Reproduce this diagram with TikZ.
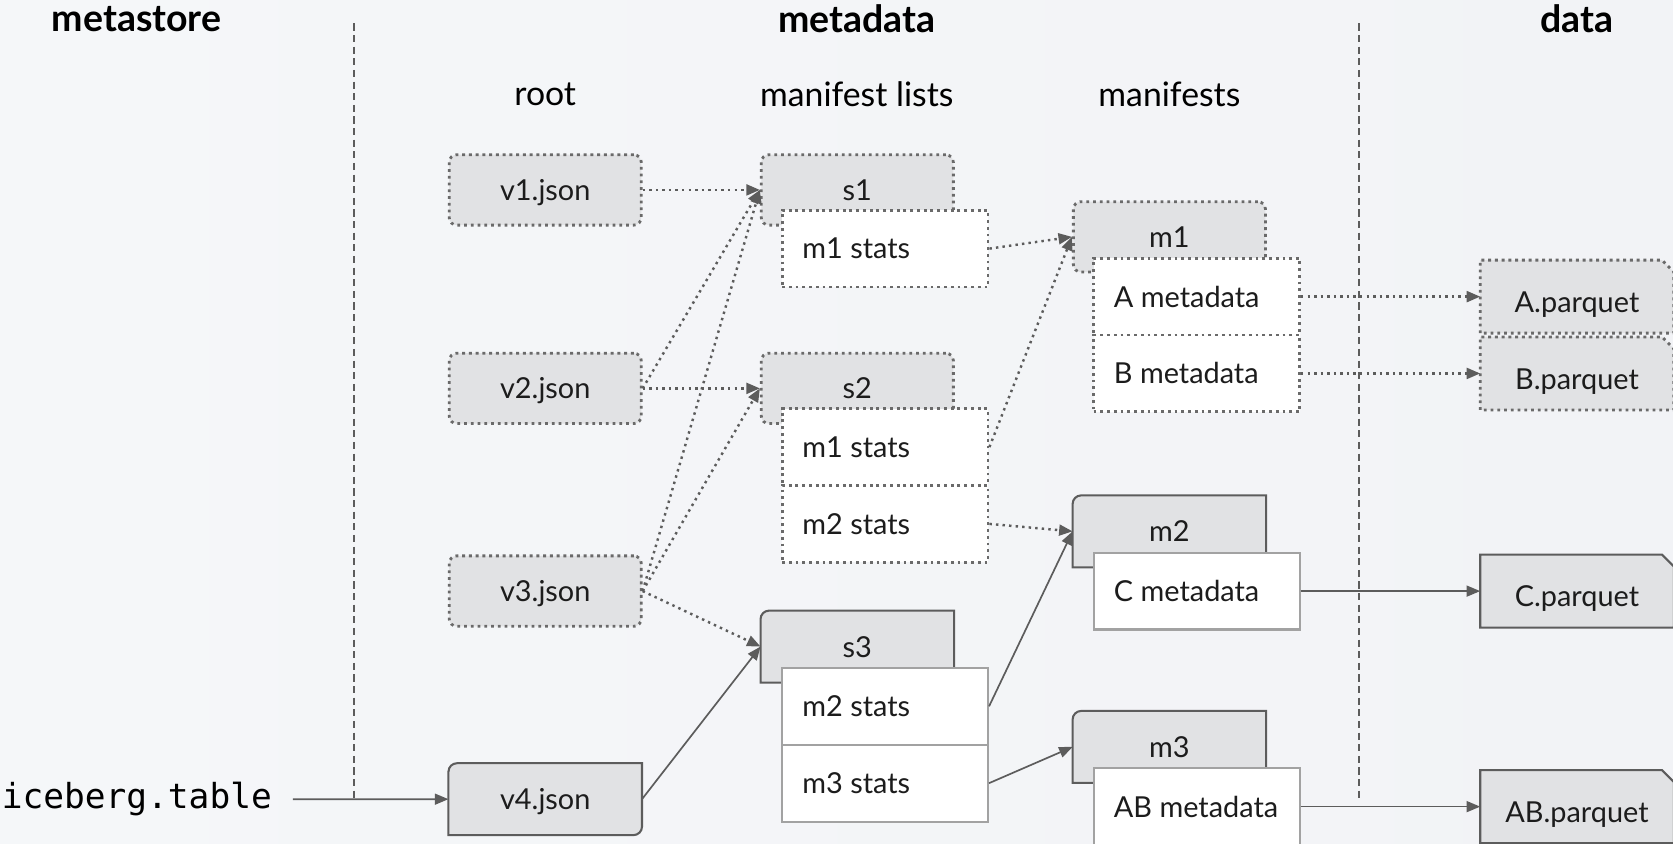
\documentclass[tikz,border=0pt]{standalone}
\usepackage{fontspec}
\setmainfont{Lato}
\setmonofont{DejaVu Sans Mono}
\usetikzlibrary{arrows.meta,positioning,backgrounds}

\definecolor{pagel}{HTML}{F5F7F9}
\definecolor{pager}{HTML}{F2F3F6}
\definecolor{boxgray}{HTML}{E1E2E4}
\definecolor{edgegray}{HTML}{5C5C5C}
\definecolor{rowgray}{HTML}{A2A2A2}
\definecolor{dotgray}{HTML}{6A6A6A}
\definecolor{inkgray}{HTML}{1C1C1C}

% outlines that a plain rectangle node can't give
\newcommand{\tabpath}[1]{(#1.north east) -- ([xshift=0.08cm]#1.north west)
  arc[start angle=90, end angle=180, radius=0.08cm]
  -- (#1.south west) -- (#1.south east) -- cycle}
\newcommand{\snapshotpath}[1]{(#1.north east) -- ([xshift=0.08cm]#1.north west)
  arc[start angle=90, end angle=180, radius=0.08cm]
  -- (#1.south west) -- ([xshift=-0.08cm]#1.south east)
  arc[start angle=270, end angle=360, radius=0.08cm] -- cycle}
\newcommand{\filepath}[1]{(#1.south west) -- (#1.north west)
  -- ([xshift=-0.11cm]#1.north east) -- ([yshift=-0.11cm]#1.north east)
  -- (#1.south east) -- cycle}
% left-aligned entry text in a row
\newcommand{\rowtext}[1]{\makebox[1.55cm][l]{#1}}

\begin{document}
\begin{tikzpicture}[
  node distance=0.72cm,
  head/.style={font=\bfseries\fontsize{10}{12}\selectfont, text=black},
  subhead/.style={font=\fontsize{9}{11}\selectfont, text=black},
  boxfont/.style={font=\fontsize{7.7}{9.5}\selectfont, text=inkgray},
  dotline/.style={line width=0.75pt, dash pattern=on 0.75pt off 1.05pt},
  graybox/.style={rectangle, boxfont, fill=boxgray, minimum width=1.8cm, minimum height=0.66cm, inner sep=0pt, text depth=0pt},
  dotbox/.style={graybox, draw=dotgray, dotline, rounded corners=0.07cm},
  tabbox/.style={graybox, fill=none},
  filebox/.style={graybox, fill=none, minimum height=0.67cm, text height=0.84em},
  dotrow/.style={rectangle, boxfont, fill=white, draw=dotgray, dotline, inner xsep=0.19cm, inner ysep=0pt, minimum height=0.72cm},
  solidrow/.style={dotrow, draw=rowgray, solid, line width=0.55pt},
  dotarrow/.style={-{Triangle[length=3.6pt,width=2.9pt]}, draw=edgegray, line width=0.65pt, dash pattern=on 0.65pt off 1.1pt},
  solidarrow/.style={-{Triangle[length=3.6pt,width=2.9pt]}, draw=edgegray, line width=0.45pt},
  sepline/.style={draw=edgegray, line width=0.45pt, dash pattern=on 1.9pt off 1.2pt}
]
\useasboundingbox (0,0) rectangle (15.68,-7.91);

% Column headings
\node[head] (metastore_head) at (1.28,-0.18) {metastore};
\node[head] (metadata_head) at (8.03,-0.18) {metadata};
\node[head] (data_head) at (14.78,-0.18) {data};
\node[subhead] (root_head) at (5.11,-0.88) {root};
\node[subhead] (lists_head) at (8.03,-0.88) {manifest lists};
\node[subhead] (manifests_head) at (10.96,-0.88) {manifests};

% Separators
\draw[sepline] (3.32,-0.22) -- (3.32,-7.48);
\draw[sepline] (12.74,-0.22) -- (12.74,-7.48);

% Catalog pointer
\node[font=\ttfamily\fontsize{9.2}{11}\selectfont, text=black, anchor=base west, inner sep=0pt] (table_ref) at (0.01,-7.58) {iceberg.table};

% Root metadata files
\node[dotbox] (v1_json) at (5.11,-1.78) {v1.json};
\node[dotbox, below of=v1_json, node distance=1.86cm] (v2_json) {v2.json};
\node[dotbox, below of=v2_json, node distance=1.90cm] (v3_json) {v3.json};
\node[tabbox, below of=v3_json, node distance=1.95cm] (v4_json) {v4.json};

% Manifest lists
\node[dotbox, right of=v1_json, node distance=2.925cm] (s1_list) {s1};
\node[dotrow] (s1_m1) at ([shift={(0.26,-0.55)}]s1_list) {\rowtext{m1 stats}};
\node[dotbox, right of=v2_json, node distance=2.925cm] (s2_list) {s2};
\node[dotrow] (s2_m1) at ([shift={(0.26,-0.55)}]s2_list) {\rowtext{m1 stats}};
\node[dotrow, below of=s2_m1] (s2_m2) {\rowtext{m2 stats}};
\node[tabbox] (s3_list) at (8.035,-6.06) {s3};
\node[solidrow] (s3_m2) at ([shift={(0.26,-0.56)}]s3_list) {\rowtext{m2 stats}};
\node[solidrow, below of=s3_m2] (s3_m3) {\rowtext{m3 stats}};

% Manifests
\node[dotbox] (m1_file) at (10.96,-2.22) {m1};
\node[dotrow] (a_meta) at ([shift={(0.255,-0.56)}]m1_file) {\rowtext{A metadata}};
\node[dotrow, below of=a_meta] (b_meta) {\rowtext{B metadata}};
\node[tabbox] (m2_file) at (10.96,-4.98) {m2};
\node[solidrow] (c_meta) at ([shift={(0.255,-0.56)}]m2_file) {\rowtext{C metadata}};
\node[tabbox] (m3_file) at (10.96,-7.00) {m3};
\node[solidrow] (ab_meta) at ([shift={(0.255,-0.56)}]m3_file) {\rowtext{AB metadata}};

% Data files
\node[filebox, right of=a_meta, node distance=3.565cm] (a_parquet) {A.parquet};
\node[filebox, right of=b_meta, node distance=3.565cm] (b_parquet) {B.parquet};
\node[filebox, right of=c_meta, node distance=3.565cm] (c_parquet) {C.parquet};
\node[filebox, right of=ab_meta, node distance=3.565cm] (ab_parquet) {AB.parquet};

% Table -> current root
\draw[solidarrow, shorten <=0.19cm] (table_ref.east) -- (v4_json.west);

% Root -> manifest lists
\draw[dotarrow] (v1_json.east) -- (s1_list.west);
\draw[dotarrow] (v2_json.east) -- (s1_list.west);
\draw[dotarrow] (v2_json.east) -- (s2_list.west);
\draw[dotarrow] (v3_json.east) -- (s1_list.west);
\draw[dotarrow] (v3_json.east) -- (s2_list.west);
\draw[dotarrow] (v3_json.east) -- (s3_list.west);
\draw[solidarrow] (v4_json.east) -- (s3_list.west);

% Manifest lists -> manifests
\draw[dotarrow] (s1_m1.east) -- (m1_file.west);
\draw[dotarrow] (s2_m1.east) -- (m1_file.west);
\draw[dotarrow] (s2_m2.east) -- (m2_file.west);
\draw[solidarrow] (s3_m2.east) -- (m2_file.west);
\draw[solidarrow] (s3_m3.east) -- (m3_file.west);

% Manifests -> data files
\draw[dotarrow] (a_meta.east) -- (a_parquet.west);
\draw[dotarrow] (b_meta.east) -- (b_parquet.west);
\draw[solidarrow] (c_meta.east) -- (c_parquet.west);
\draw[solidarrow] (ab_meta.east) -- (ab_parquet.west);

% Page tint and custom outlines go underneath
\begin{scope}[on background layer]
  \shade[left color=pagel, right color=pager] (0,0) rectangle (15.68,-7.91);
  \filldraw[fill=boxgray, draw=edgegray, line width=0.55pt] \snapshotpath{v4_json};
  \foreach \tabname in {s3_list,m2_file,m3_file}
    \filldraw[fill=boxgray, draw=edgegray, line width=0.55pt] \tabpath{\tabname};
  \foreach \fname in {a_parquet,b_parquet}
    \filldraw[fill=boxgray, draw=dotgray, dotline] \filepath{\fname};
  \foreach \fname in {c_parquet,ab_parquet}
    \filldraw[fill=boxgray, draw=edgegray, line width=0.55pt] \filepath{\fname};
\end{scope}

\end{tikzpicture}
\end{document}
